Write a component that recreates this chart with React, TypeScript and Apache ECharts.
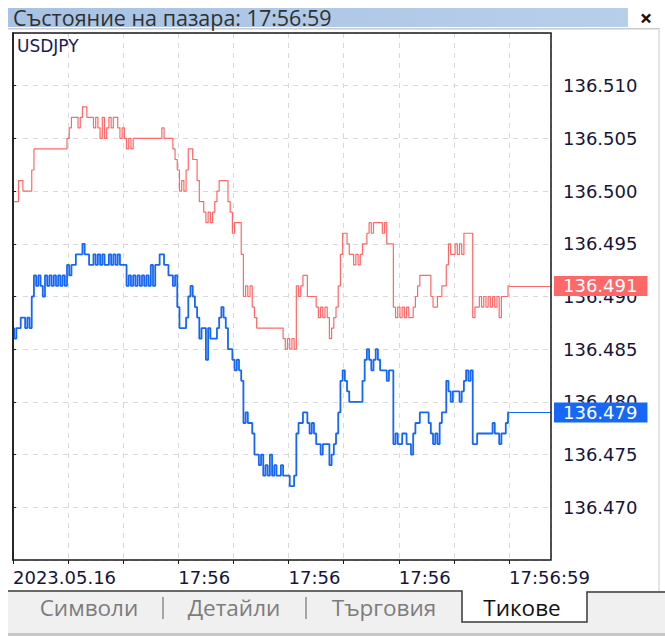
import React, { useEffect, useRef } from "react";
import * as echarts from "echarts";

const symbolName = "USDJPY";
const titleText = "Състояние на пазара: 17:56:59";
const tabNames = ["Символи", "Детайли", "Търговия", "Тикове"];
const xTickLabels = ["2023.05.16", "", "", "17:56", "", "17:56", "", "17:56", "", "17:56:59"];

// Ask (red) prices, one per tick
const askPrices = [
  136.499, 136.499, 136.499, 136.501, 136.501, 136.500, 136.500, 136.500, 136.500, 136.502,
  136.504, 136.504, 136.504, 136.504, 136.504, 136.504, 136.504, 136.504, 136.504, 136.504,
  136.504, 136.504, 136.504, 136.504, 136.504, 136.505, 136.506, 136.507, 136.507, 136.507,
  136.506, 136.507, 136.508, 136.508, 136.507, 136.507, 136.507, 136.506, 136.507, 136.506,
  136.505, 136.507, 136.505, 136.506, 136.507, 136.506, 136.507, 136.507, 136.506, 136.505,
  136.506, 136.505, 136.504, 136.505, 136.504, 136.505, 136.505, 136.505, 136.505, 136.505,
  136.505, 136.505, 136.505, 136.505, 136.505, 136.505, 136.505, 136.505, 136.506, 136.505,
  136.505, 136.505, 136.505, 136.504, 136.503, 136.502, 136.500, 136.501, 136.500, 136.502,
  136.504, 136.504, 136.503, 136.503, 136.501, 136.499, 136.499, 136.498, 136.497, 136.498,
  136.497, 136.498, 136.499, 136.500, 136.501, 136.501, 136.501, 136.501, 136.499, 136.498,
  136.496, 136.497, 136.497, 136.497, 136.494, 136.490, 136.491, 136.490, 136.491, 136.489,
  136.488, 136.487, 136.487, 136.487, 136.487, 136.487, 136.487, 136.487, 136.487, 136.487,
  136.487, 136.487, 136.487, 136.486, 136.485, 136.486, 136.485, 136.486, 136.485, 136.491,
  136.490, 136.491, 136.492, 136.492, 136.490, 136.490, 136.490, 136.490, 136.489, 136.488,
  136.489, 136.488, 136.489, 136.488, 136.486, 136.487, 136.488, 136.489, 136.491, 136.494,
  136.496, 136.496, 136.495, 136.494, 136.494, 136.493, 136.494, 136.493, 136.494, 136.495,
  136.495, 136.496, 136.497, 136.496, 136.497, 136.497, 136.497, 136.497, 136.496, 136.497,
  136.495, 136.495, 136.495, 136.489, 136.488, 136.489, 136.488, 136.489, 136.488, 136.489,
  136.488, 136.488, 136.489, 136.490, 136.491, 136.492, 136.492, 136.492, 136.492, 136.492,
  136.490, 136.489, 136.489, 136.490, 136.490, 136.491, 136.491, 136.493, 136.495, 136.494,
  136.494, 136.495, 136.494, 136.495, 136.494, 136.496, 136.496, 136.496, 136.496, 136.488,
  136.489, 136.489, 136.490, 136.489, 136.490, 136.489, 136.490, 136.489, 136.490, 136.489,
  136.490, 136.488, 136.490, 136.490, 136.490, 136.491,
];

// Bid (blue) prices, one per tick
const bidPrices = [
  136.487, 136.486, 136.487, 136.487, 136.488, 136.488, 136.487, 136.488, 136.487, 136.490,
  136.492, 136.491, 136.492, 136.491, 136.490, 136.492, 136.491, 136.492, 136.491, 136.492,
  136.491, 136.492, 136.491, 136.492, 136.491, 136.493, 136.492, 136.493, 136.493, 136.494,
  136.494, 136.494, 136.495, 136.494, 136.494, 136.493, 136.493, 136.494, 136.493, 136.494,
  136.493, 136.494, 136.493, 136.493, 136.494, 136.493, 136.494, 136.493, 136.494, 136.493,
  136.493, 136.493, 136.491, 136.492, 136.491, 136.492, 136.491, 136.492, 136.491, 136.492,
  136.491, 136.492, 136.491, 136.493, 136.491, 136.493, 136.493, 136.494, 136.494, 136.493,
  136.493, 136.492, 136.492, 136.491, 136.492, 136.489, 136.487, 136.487, 136.487, 136.488,
  136.490, 136.491, 136.490, 136.489, 136.488, 136.486, 136.487, 136.487, 136.484, 136.487,
  136.486, 136.486, 136.486, 136.487, 136.488, 136.489, 136.488, 136.487, 136.485, 136.485,
  136.484, 136.483, 136.484, 136.483, 136.482, 136.478, 136.479, 136.478, 136.478, 136.477,
  136.475, 136.475, 136.474, 136.475, 136.473, 136.474, 136.473, 136.475, 136.473, 136.474,
  136.473, 136.473, 136.474, 136.473, 136.473, 136.473, 136.472, 136.472, 136.473, 136.477,
  136.478, 136.478, 136.479, 136.479, 136.478, 136.477, 136.478, 136.477, 136.476, 136.476,
  136.475, 136.476, 136.476, 136.476, 136.474, 136.475, 136.476, 136.477, 136.479, 136.482,
  136.483, 136.482, 136.481, 136.480, 136.480, 136.480, 136.480, 136.480, 136.480, 136.482,
  136.484, 136.485, 136.484, 136.483, 136.484, 136.485, 136.484, 136.483, 136.483, 136.483,
  136.482, 136.483, 136.483, 136.476, 136.477, 136.476, 136.476, 136.477, 136.477, 136.476,
  136.476, 136.475, 136.477, 136.478, 136.478, 136.479, 136.479, 136.479, 136.479, 136.478,
  136.477, 136.476, 136.477, 136.476, 136.478, 136.479, 136.479, 136.482, 136.481, 136.480,
  136.481, 136.481, 136.481, 136.480, 136.481, 136.482, 136.483, 136.482, 136.483, 136.476,
  136.476, 136.477, 136.477, 136.477, 136.477, 136.477, 136.477, 136.477, 136.478, 136.477,
  136.477, 136.476, 136.477, 136.477, 136.478, 136.479,
];

const X_MAX = 244;
const X_INTERVAL = 25;
const ASK_COLOR = "#ff6868";
const BID_COLOR = "#1767f6";
const AXIS_FONT = "DejaVu Sans";
const UI_FONT = "Open Sans";

function lastLine(prices: number[], color: string) {
  const last = prices[prices.length - 1];
  return {
    silent: true,
    symbol: ["none", "none"],
    animation: false,
    lineStyle: { color, width: 1, type: "solid" },
    label: {
      show: true,
      position: "end",
      distance: 3,
      formatter: last.toFixed(3),
      color: "#ffffff",
      backgroundColor: color,
      padding: [1, 10, 1, 9],
      fontFamily: AXIS_FONT,
      fontSize: 18,
      lineHeight: 18,
    },
    data: [[{ coord: [prices.length - 1, last] }, { coord: [X_MAX, last] }]],
  };
}

export default function App() {
  const ref = useRef<HTMLDivElement>(null);
  useEffect(() => {
    if (!ref.current) return;
    const chart = echarts.init(ref.current, null, { renderer: "svg" });
    const tabCenters = [89, 234, 384, 522];
    const option: any = {
      animation: false,
      backgroundColor: "#ffffff",
      grid: {
        left: 13,
        top: 33,
        width: 538,
        height: 527,
        show: false,
      },
      xAxis: {
        type: "value",
        min: 0,
        max: X_MAX,
        interval: X_INTERVAL,
        axisLine: { show: false },
        axisTick: { show: true, length: 4, lineStyle: { color: "#1a1a1a" } },
        splitLine: { show: true, lineStyle: { color: "#d9d9d9", type: [5, 5], width: 1 } },
        axisLabel: {
          show: true,
          align: "left",
          margin: 8,
          color: "#15153a",
          fontFamily: AXIS_FONT,
          fontSize: 18,
          showMaxLabel: false,
          formatter: (v: number) => xTickLabels[Math.round(v / X_INTERVAL)] ?? "",
        },
      },
      yAxis: {
        type: "value",
        position: "right",
        min: 136.465,
        max: 136.515,
        interval: 0.005,
        axisLine: { show: true, lineStyle: { color: "#1a1a1a", width: 1.5 } },
        axisTick: { show: true, length: 3, lineStyle: { color: "#1a1a1a" } },
        splitLine: { show: true, lineStyle: { color: "#d9d9d9", type: [5, 5], width: 1 } },
        axisLabel: {
          margin: 12,
          color: "#15153a",
          fontFamily: AXIS_FONT,
          fontSize: 18,
          showMinLabel: false,
          showMaxLabel: false,
          formatter: (v: number) => v.toFixed(3),
        },
      },
      series: [
        {
          name: "Ask",
          type: "line",
          step: "middle",
          symbol: "none",
          data: askPrices.map((v, i) => [i, v]),
          lineStyle: { color: ASK_COLOR, width: 1.2 },
          markLine: lastLine(askPrices, ASK_COLOR),
          z: 3,
        },
        {
          name: "Bid",
          type: "line",
          step: "middle",
          symbol: "none",
          data: bidPrices.map((v, i) => [i, v]),
          lineStyle: { color: BID_COLOR, width: 1.8 },
          markLine: lastLine(bidPrices, BID_COLOR),
          z: 4,
        },
      ],
      graphic: [
        {
          type: "rect",
          shape: { x: 13, y: 33, width: 538, height: 527 },
          style: { fill: null, stroke: "#1a1a1a", lineWidth: 1.5 },
          silent: true,
          z: 9,
        },
        {
          type: "rect",
          shape: { x: 8, y: 8, width: 620, height: 19 },
          style: {
            fill: new echarts.graphic.LinearGradient(0, 0, 1, 0, [
              { offset: 0, color: "#a7c2e3" },
              { offset: 1, color: "#b8cfe9" },
            ]),
          },
          z: 10,
        },
        {
          type: "text",
          x: 13,
          y: 17,
          style: {
            text: titleText,
            fill: "#303030",
            font: `21.5px "${UI_FONT}"`,
            verticalAlign: "middle",
          },
          z: 11,
        },
        {
          type: "text",
          x: 646,
          y: 17,
          style: {
            text: "×",
            fill: "#111111",
            font: `bold 22px "${UI_FONT}"`,
            align: "center",
            verticalAlign: "middle",
          },
          z: 11,
        },
        { type: "rect", shape: { x: 8, y: 28, width: 652, height: 1.5 }, style: { fill: "#c9c9c9" }, z: 10 },
        { type: "rect", shape: { x: 658, y: 29, width: 2, height: 562 }, style: { fill: "#e4e4e4" }, z: 10 },
        {
          type: "text",
          x: 17,
          y: 46,
          style: {
            text: symbolName,
            fill: "#1c1c55",
            font: `17px "${AXIS_FONT}"`,
            verticalAlign: "middle",
          },
          z: 11,
        },
        { type: "rect", shape: { x: 8, y: 591, width: 657, height: 45 }, style: { fill: "#f0f0f0" }, z: 10 },
        { type: "rect", shape: { x: 8, y: 633, width: 657, height: 3 }, style: { fill: "#c6c6c6" }, z: 11 },
        {
          type: "polyline",
          shape: { points: [[8, 591], [462, 591], [462, 622], [587, 622], [587, 592], [665, 592]] },
          style: { stroke: "#3a3a3a", lineWidth: 1.5, fill: null },
          z: 12,
        },
        { type: "rect", shape: { x: 463, y: 590, width: 123, height: 31 }, style: { fill: "#ffffff" }, z: 11 },
        { type: "line", shape: { x1: 163, y1: 597, x2: 163, y2: 619 }, style: { stroke: "#8c8c8c", lineWidth: 1.5 }, z: 12 },
        { type: "line", shape: { x1: 306, y1: 597, x2: 306, y2: 619 }, style: { stroke: "#8c8c8c", lineWidth: 1.5 }, z: 12 },
        ...tabNames.map((t, i) => ({
          type: "text",
          x: tabCenters[i],
          y: 607,
          style: {
            text: t,
            fill: i === 3 ? "#111111" : "#7c7c7c",
            font: `22.5px "${UI_FONT}"`,
            align: "center",
            verticalAlign: "middle",
          },
          z: 13,
        })),
      ],
    };
    chart.setOption(option);
    return () => chart.dispose();
  }, []);
  return (
    <div style={{ position: "absolute", left: 0, top: 0, width: 665, height: 636, background: "#fff" }}>
      <div ref={ref} style={{ width: 665, height: 636 }} />
    </div>
  );
}
